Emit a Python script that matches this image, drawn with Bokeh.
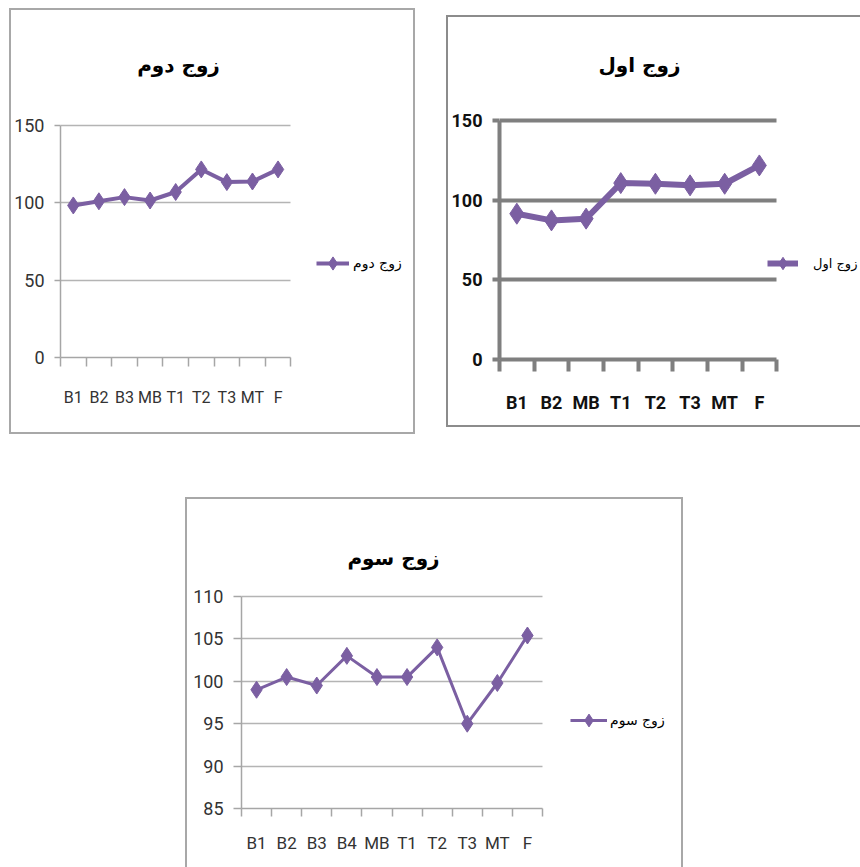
from bokeh.plotting import figure
from bokeh.models import Range1d, FixedTicker, Legend, LegendItem, Spacer, Label
from bokeh.layouts import row, column
from bokeh.embed import file_html
from bokeh.resources import INLINE

# ---- data ----
cats_dovom = ["B1", "B2", "B3", "MB", "T1", "T2", "T3", "MT", "F"]
vals_dovom = [98.3, 101.0, 103.7, 101.5, 107.0, 121.6, 113.4, 113.8, 121.6]
title_dovom = "زوج دوم"
yticks_dovom = [0, 50, 100, 150]

cats_aval = ["B1", "B2", "MB", "T1", "T2", "T3", "MT", "F"]
vals_aval = [91.5, 87.3, 88.4, 110.7, 110.3, 109.3, 110.3, 121.8]
title_aval = "زوج اول"
yticks_aval = [0, 50, 100, 150]

cats_sevom = ["B1", "B2", "B3", "B4", "MB", "T1", "T2", "T3", "MT", "F"]
vals_sevom = [99.0, 100.5, 99.5, 103.0, 100.5, 100.5, 104.0, 95.0, 99.8, 105.4]
title_sevom = "زوج سوم"
yticks_sevom = [85, 90, 95, 100, 105, 110]

PURPLE = "#7b5fa2"
NUM_FONT = "Roboto, Liberation Sans, sans-serif"
AR_FONT = "DejaVu Sans, Noto Sans, sans-serif"


def make_panel(cats, vals, title, yticks, w, h, ml, mr, mb, plot_w, plot_h,
               grid_color, grid_w, axis_color, axis_w, line_w, msize,
               leg_xy, leg_glyph_w, leg_glyph_h, leg_standoff, leg_fs,
               title_xy, xlab_standoff, x_tick_out, y_tick_out,
               label_style, label_color, xfs, yfs, border):
    n = len(cats)
    xs = [i + 0.5 for i in range(n)]
    span = yticks[-1] - yticks[0]
    mt = 2
    frame_w = w - ml - mr
    frame_h = h - mt - mb
    # frame covers the whole chart box; the plot area is the lower-left part
    x_end = n * frame_w / plot_w
    y_end = yticks[0] + span * frame_h / plot_h
    p = figure(width=w, height=h, output_backend="svg", toolbar_location=None,
               x_range=Range1d(0, x_end),
               y_range=Range1d(yticks[0], y_end),
               min_border_left=ml, min_border_right=mr,
               min_border_top=mt, min_border_bottom=mb)
    p.outline_line_color = None
    p.background_fill_color = "white"
    p.border_fill_color = "white"
    p.styles = {"outline": border, "outline-offset": "0px"}

    # y axis
    p.yaxis.ticker = FixedTicker(ticks=yticks)
    p.yaxis.bounds = (yticks[0], yticks[-1])
    p.yaxis.axis_line_color = axis_color
    p.yaxis.axis_line_width = axis_w
    p.yaxis.major_tick_line_color = axis_color
    p.yaxis.major_tick_line_width = axis_w
    p.yaxis.major_tick_out = y_tick_out
    p.yaxis.major_tick_in = 0
    p.yaxis.minor_tick_line_color = None
    p.yaxis.major_label_text_font = NUM_FONT
    p.yaxis.major_label_text_font_size = yfs
    p.yaxis.major_label_text_font_style = label_style
    p.yaxis.major_label_text_color = label_color
    p.yaxis.major_label_standoff = 10

    # x axis: labels at category centres, ticks at boundaries
    p.xaxis.ticker = FixedTicker(ticks=xs, minor_ticks=list(range(n + 1)))
    p.xaxis.bounds = (0, n)
    p.xaxis.major_label_overrides = {x: c for x, c in zip(xs, cats)}
    p.xaxis.axis_line_color = axis_color
    p.xaxis.axis_line_width = axis_w
    p.xaxis.major_tick_line_color = None
    p.xaxis.major_tick_out = 0
    p.xaxis.major_tick_in = 0
    p.xaxis.minor_tick_line_color = axis_color
    p.xaxis.minor_tick_line_width = axis_w
    p.xaxis.minor_tick_out = x_tick_out
    p.xaxis.minor_tick_in = 0
    p.xaxis.major_label_text_font = NUM_FONT
    p.xaxis.major_label_text_font_size = xfs
    p.xaxis.major_label_text_font_style = label_style
    p.xaxis.major_label_text_color = label_color
    p.xaxis.major_label_standoff = xlab_standoff

    p.xgrid.grid_line_color = None
    p.ygrid.ticker = FixedTicker(ticks=yticks[1:])
    p.ygrid.cross_bounds = (0, n)
    p.ygrid.grid_line_color = grid_color
    p.ygrid.grid_line_width = grid_w

    ln = p.line(xs, vals, line_color=PURPLE, line_width=line_w)
    sc = p.scatter(xs, vals, marker="diamond", size=msize,
                   fill_color=PURPLE, line_color=PURPLE)

    # chart title (screen position inside the chart box)
    p.add_layout(Label(x=title_xy[0], y=title_xy[1], x_units="screen", y_units="screen",
                       text=title, text_align="center", text_baseline="middle",
                       text_font=AR_FONT, text_font_size="20px",
                       text_font_style="bold", text_color="black"))

    leg = Legend(items=[LegendItem(label=title, renderers=[ln, sc])],
                 location=leg_xy, orientation="vertical")
    leg.glyph_width = leg_glyph_w
    leg.glyph_height = leg_glyph_h
    leg.label_standoff = leg_standoff
    leg.padding = 0
    leg.margin = 0
    leg.spacing = 0
    leg.border_line_color = None
    leg.background_fill_alpha = 0
    leg.label_text_font = AR_FONT
    leg.label_text_font_size = leg_fs
    leg.label_text_color = "black"
    p.add_layout(leg, "center")
    return p


p_dovom = make_panel(cats_dovom, vals_dovom, title_dovom, yticks_dovom,
                     w=402, h=422, ml=48, mr=2, mb=75, plot_w=231, plot_h=232,
                     grid_color="#b4b4b4", grid_w=1.5, axis_color="#a6a6a6", axis_w=1.5,
                     line_w=4, msize=17,
                     leg_xy=(256, 74), leg_glyph_w=33, leg_glyph_h=40, leg_standoff=4,
                     leg_fs="14px",
                     title_xy=(118, 293), xlab_standoff=21,
                     x_tick_out=9, y_tick_out=6,
                     label_style="normal", label_color="#333333", xfs="16px", yfs="18px",
                     border="2px solid #a8a8a8")

p_aval = make_panel(cats_aval, vals_aval, title_aval, yticks_aval,
                    w=412, h=408, ml=46, mr=0, mb=66, plot_w=281, plot_h=239,
                    grid_color="#7f7f7f", grid_w=4, axis_color="#7f7f7f", axis_w=4,
                    line_w=6, msize=21,
                    leg_xy=(268, 70), leg_glyph_w=31, leg_glyph_h=52, leg_standoff=15,
                    leg_fs="13px",
                    title_xy=(140, 295), xlab_standoff=20,
                    x_tick_out=12, y_tick_out=7,
                    label_style="bold", label_color="#111111", xfs="18px", yfs="18px",
                    border="2px solid #8c8c8c")

p_sevom = make_panel(cats_sevom, vals_sevom, title_sevom, yticks_sevom,
                     w=494, h=368, ml=54, mr=2, mb=59, plot_w=301, plot_h=212,
                     grid_color="#b4b4b4", grid_w=1.5, axis_color="#a6a6a6", axis_w=1.5,
                     line_w=3, msize=17,
                     leg_xy=(329, 72), leg_glyph_w=37, leg_glyph_h=32, leg_standoff=3,
                     leg_fs="14px",
                     title_xy=(152, 251), xlab_standoff=16,
                     x_tick_out=8, y_tick_out=8,
                     label_style="normal", label_color="#333333", xfs="17px", yfs="18px",
                     border="2px solid #a8a8a8")

top = row(Spacer(width=11),
          column(Spacer(height=10), p_dovom),
          Spacer(width=35),
          column(Spacer(height=17), p_aval))
bottom = row(Spacer(width=187), p_sevom)
layout = column(top, Spacer(height=67), bottom)

open("out.html", "w").write(file_html(layout, INLINE))
